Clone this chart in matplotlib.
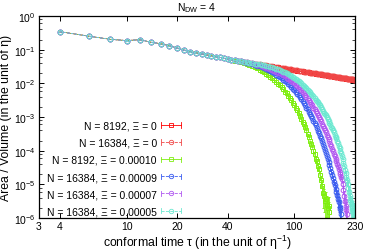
import numpy as np
import matplotlib
matplotlib.use('Agg')
import matplotlib.pyplot as plt
from matplotlib.lines import Line2D
from matplotlib.legend_handler import HandlerBase
from matplotlib.ticker import LogLocator, NullLocator, NullFormatter

plt.rcParams['font.family'] = ['Liberation Sans', 'DejaVu Sans']
plt.rcParams['mathtext.default'] = 'regular'

# conformal time, sampled every 2
tau = np.arange(4, 232, 2)

# tau = 4 ... 38, all runs agree here
early = [0.342, 0.250, 0.203, 0.186, 0.198, 0.166, 0.150, 0.131, 0.112, 0.097,
         0.088, 0.081, 0.0755, 0.0705, 0.066, 0.0622, 0.0588, 0.0558]

# tau = 40 ... 230
red_8192 = [0.053, 0.0505, 0.0483, 0.0464, 0.045,
            0.0437, 0.0423, 0.041, 0.0398, 0.0387, 0.0376, 0.0366, 0.0357, 0.0348, 0.0339,
            0.0331, 0.0324, 0.0317, 0.031, 0.0303, 0.0297, 0.0291, 0.0285, 0.028, 0.0275,
            0.027, 0.0265, 0.026, 0.0256, 0.0251,
            0.0247, 0.0243, 0.024, 0.0236, 0.0232, 0.0229, 0.0225, 0.0222, 0.0219, 0.0216,
            0.0213, 0.021, 0.0207, 0.0205, 0.0202, 0.02, 0.0197, 0.0195, 0.0192, 0.019,
            0.0188, 0.0186, 0.0183, 0.0181, 0.0179,
            0.0177, 0.0175, 0.0174, 0.0172, 0.017, 0.0168, 0.0167, 0.0165, 0.0163, 0.0162,
            0.016, 0.0159, 0.0157, 0.0156, 0.0154, 0.0153, 0.0151, 0.015, 0.0149, 0.0147,
            0.0146, 0.0145, 0.0144, 0.0142, 0.0141,
            0.014, 0.0139, 0.0138, 0.0137, 0.0136, 0.0135, 0.0134, 0.0133, 0.0132, 0.0131,
            0.013, 0.0129, 0.0128, 0.0127, 0.0126, 0.0125]

red_16384 = [0.053, 0.0506, 0.0484, 0.0465, 0.0451,
             0.0438, 0.0424, 0.0411, 0.0399, 0.0388, 0.0377, 0.0367, 0.0358, 0.0349, 0.0341,
             0.0333, 0.0326, 0.0319, 0.0312, 0.0305, 0.0299, 0.0293, 0.0287, 0.0282, 0.0277,
             0.0272, 0.0267, 0.0262, 0.0258, 0.0253,
             0.0249, 0.0245, 0.0242, 0.0238, 0.0234, 0.0231, 0.0227, 0.0224, 0.0221, 0.0218,
             0.0215, 0.0212, 0.0209, 0.0207, 0.0204, 0.0202, 0.0199, 0.0197, 0.0194, 0.0192,
             0.019, 0.0188, 0.0185, 0.0183, 0.0181,
             0.0179, 0.0177, 0.0176, 0.0174, 0.0172, 0.017, 0.0169, 0.0167, 0.0165, 0.0164,
             0.0162, 0.0161, 0.0159, 0.0158, 0.0156, 0.0155, 0.0153, 0.0152, 0.0151, 0.0149,
             0.0148, 0.0147, 0.0146, 0.0144, 0.0143,
             0.0142, 0.0141, 0.014, 0.0139, 0.0138, 0.0137, 0.0136, 0.0135, 0.0134, 0.0133,
             0.0132, 0.0131, 0.013, 0.0129, 0.0128, 0.0127]

# tau = 40 ... 162
green_8192 = [0.0528, 0.05, 0.0472, 0.0447, 0.0423, 0.0399, 0.0374, 0.0349, 0.0325, 0.0301,
              0.0277, 0.0255, 0.0234, 0.0213, 0.0193, 0.0174, 0.0157, 0.0141, 0.0125, 0.0111,
              0.0098, 0.0087, 0.0076, 0.0066, 0.0057, 0.005, 0.0043, 0.0036, 0.0031, 0.0026,
              0.0022, 0.0019, 0.0016, 0.0013, 0.0011, 8.9e-4, 7.3e-4, 6.0e-4, 4.9e-4, 4.0e-4,
              3.1e-4, 2.6e-4, 2.0e-4, 1.6e-4, 1.3e-4, 9.9e-5, 7.9e-5, 5.8e-5, 4.8e-5, 3.4e-5,
              2.8e-5, 1.9e-5, 1.3e-5, 9e-6, 5.5e-6, 4.5e-6, 3.2e-6, 3.6e-6, 2.4e-6, 2.0e-6,
              2.3e-6, 1.5e-6]
green_err = [1.5e-5, 1.3e-5, 1.1e-5, 1e-5, 8e-6, 7e-6, 6e-6, 5e-6, 4e-6, 3.5e-6,
             3e-6, 2.5e-6, 2.5e-6, 2e-6, 1.8e-6, 2e-6, 1.4e-6]

# tau = 40 ... 190
blue_16384 = [0.053, 0.0505, 0.0483, 0.0464, 0.0447, 0.043, 0.0411, 0.0393, 0.0374, 0.0356,
              0.0336, 0.0317, 0.03, 0.0282, 0.0263, 0.0246, 0.023, 0.0214, 0.0198, 0.0182,
              0.0168, 0.0155, 0.0141, 0.0129, 0.0117, 0.0107, 0.0096, 0.0087, 0.0078, 0.007,
              0.0062, 0.0056, 0.0049, 0.0044, 0.0038, 0.0034, 0.003, 0.0026, 0.0022, 0.0019,
              0.0017, 0.0014, 0.0012, 0.0011, 9.1e-4, 7.8e-4, 6.6e-4, 5.6e-4, 4.7e-4, 3.9e-4,
              3.3e-4, 2.8e-4, 2.3e-4, 1.9e-4, 1.55e-4, 1.3e-4, 1.05e-4, 8.6e-5, 7.0e-5, 5.7e-5,
              4.6e-5, 3.8e-5, 3.0e-5, 2.4e-5, 1.9e-5, 1.5e-5, 1.2e-5, 9.5e-6, 7.5e-6, 5.9e-6,
              4.8e-6, 3.6e-6, 2.9e-6, 2.1e-6, 1.8e-6, 1.3e-6]
blue_err = [6e-6, 5e-6, 4.5e-6, 4e-6, 3.5e-6, 3e-6, 2.6e-6, 2.3e-6, 2e-6, 1.8e-6,
            1.7e-6, 1.5e-6, 1.4e-6, 1.3e-6, 1.2e-6, 1.0e-6]

# tau = 40 ... 206
purple_16384 = [0.053, 0.0505, 0.0483, 0.0464, 0.045, 0.0436, 0.042, 0.0404, 0.0389, 0.0373,
                0.0357, 0.0341, 0.0327, 0.0311, 0.0295, 0.028, 0.0266, 0.0251, 0.0237, 0.0222,
                0.0209, 0.0196, 0.0183, 0.0171, 0.016, 0.0148, 0.0137, 0.0127, 0.0117, 0.0108,
                0.0099, 0.0091, 0.0083, 0.0076, 0.0069, 0.0062, 0.0056, 0.005, 0.0045, 0.004,
                0.0036, 0.0032, 0.0028, 0.0025, 0.0022, 0.0019, 0.0017, 0.0015, 0.0013, 0.00112,
                9.8e-4, 8.5e-4, 7.4e-4, 6.4e-4, 5.5e-4, 4.7e-4, 4.1e-4, 3.5e-4, 3.0e-4, 2.6e-4,
                2.2e-4, 1.9e-4, 1.6e-4, 1.35e-4, 1.15e-4, 9.7e-5, 8.2e-5, 6.9e-5, 5.8e-5, 4.9e-5,
                4.1e-5, 3.4e-5, 2.9e-5, 2.4e-5, 2.0e-5, 1.7e-5, 1.4e-5, 1.0e-5, 7.0e-6, 4.6e-6,
                3.2e-6, 2.3e-6, 1.7e-6, 1.3e-6]
purple_err = [6e-6, 5.5e-6, 5e-6, 4.5e-6, 4e-6, 3.6e-6, 3.2e-6, 2.8e-6, 2.5e-6, 2.2e-6,
              2e-6, 1.8e-6, 1.6e-6, 1.4e-6, 1.2e-6, 1.0e-6]

# tau = 40 ... 230
cyan_16384 = [0.053, 0.0505, 0.0483, 0.0464, 0.045, 0.0437, 0.0423, 0.041, 0.0398, 0.0387,
              0.0376, 0.0365, 0.0355, 0.0344, 0.0331, 0.032, 0.0308, 0.0296, 0.0284, 0.0271,
              0.0259, 0.0247, 0.0235, 0.0223, 0.0211, 0.02, 0.0188, 0.0177, 0.0166, 0.0155,
              0.0145, 0.0135, 0.0126, 0.0117, 0.0108, 0.01, 0.0092, 0.0084, 0.0077, 0.0071,
              0.0065, 0.0059, 0.0054, 0.0049, 0.0045, 0.0041, 0.0037, 0.0033, 0.003, 0.0027,
              0.0024, 0.0022, 0.00195, 0.00175, 0.00155, 0.00135, 0.00123, 0.00111, 0.001, 8.8e-4,
              7.8e-4, 6.8e-4, 6.0e-4, 5.2e-4, 4.6e-4, 4.0e-4, 3.5e-4, 3.0e-4, 2.6e-4, 2.3e-4,
              1.95e-4, 1.66e-4, 1.41e-4, 1.2e-4, 1.0e-4, 8.3e-5, 6.8e-5, 5.5e-5, 4.4e-5, 3.5e-5,
              2.7e-5, 2.1e-5, 1.7e-5, 1.3e-5, 1.0e-5, 7.8e-6, 5.9e-6, 4.5e-6, 3.4e-6, 2.8e-6,
              2.2e-6, 2.0e-6, 1.7e-6, 1.5e-6, 1.3e-6, 1.2e-6]
cyan_err = [5e-6, 4.5e-6, 4e-6, 3.6e-6, 3.2e-6, 2.8e-6, 2.5e-6, 2.2e-6, 2e-6, 1.8e-6,
            1.6e-6, 1.5e-6, 1.4e-6, 1.3e-6, 1.2e-6, 1.1e-6]

labels = ['N = 8192, Ξ = 0', 'N = 16384, Ξ = 0', 'N = 8192, Ξ = 0.00010',
          'N = 16384, Ξ = 0.00009', 'N = 16384, Ξ = 0.00007', 'N = 16384, Ξ = 0.00005']
tails = [red_8192, red_16384, green_8192, blue_16384, purple_16384, cyan_16384]
errs = [[], [], green_err, blue_err, purple_err, cyan_err]
colors = ['#ff0000', '#f04848', '#7fee10', '#3a5cf0', '#b058f0', '#6ae8d0']
markers = ['s', 'o', 's', 'o', 'o', 'o']
styles = ['-', '--', '-', '--', '--', '--']


class BarSample(HandlerBase):
    # gnuplot style key sample: line with end bars and a point in the middle
    def create_artists(self, legend, orig, xdescent, ydescent, width, height, fontsize, trans):
        y = height / 2 - ydescent
        x0, x1 = -xdescent, width - xdescent
        c = orig.get_color()
        line = Line2D([x0, x1], [y, y], color=c, ls=orig.get_linestyle(), lw=0.6)
        caps = Line2D([x0, x0, np.nan, x1, x1], [y - 2, y + 2, np.nan, y - 2, y + 2], color=c, lw=0.6)
        mark = Line2D([(x0 + x1) / 2], [y], marker=orig.get_marker(), color=c, mfc='none',
                      ms=3.2, mew=0.6, ls='none')
        for a in (line, caps, mark):
            a.set_transform(trans)
        return [line, caps, mark]


fig = plt.figure(figsize=(3.66, 2.53), dpi=100)
ax = fig.add_axes([0.1066, 0.1344, 0.8634, 0.7984])

handles = []
for lab, tail, e, c, m, ls in zip(labels, tails, errs, colors, markers, styles):
    vals = np.array(early + tail)
    t = tau[:len(vals)]
    yerr = np.array([0.0] * (len(vals) - len(e)) + e)
    ax.errorbar(t, vals, yerr=yerr, fmt=m, ls=ls, color=c, mfc='none', ms=3.4, mew=0.7,
                lw=0.5, elinewidth=0.6, capsize=1.0, capthick=0.6)
    handles.append(Line2D([], [], color=c, marker=m, ls=ls))

ax.set_xscale('log')
ax.set_yscale('log')
ax.set_xlim(3, 230)
ax.set_ylim(1e-6, 1)
ax.set_xticks([3, 4, 10, 20, 40, 100, 230])
ax.set_xticklabels(['3', '4', '10', '20', '40', '100', '230'])
ax.xaxis.set_minor_locator(NullLocator())
ax.yaxis.set_major_locator(LogLocator(base=10, numticks=10))
ax.yaxis.set_minor_locator(LogLocator(base=10, subs=(2, 4, 6, 8), numticks=10))
ax.yaxis.set_minor_formatter(NullFormatter())
ax.tick_params(which='both', direction='in', top=True, right=True, labelsize=7.5, pad=2.5)
ax.tick_params(which='major', length=3.5, width=0.7)
ax.tick_params(which='minor', length=2, width=0.5)
for s in ax.spines.values():
    s.set_linewidth(0.9)

ax.set_xlabel('conformal time τ (in the unit of η$^{-1}$)', fontsize=8.8, labelpad=1)
ax.set_ylabel('Area / Volume (in the unit of η)', fontsize=8.8, labelpad=1)
ax.set_title('N$_{DW}$ = 4', fontsize=7.5, pad=4)

ax.legend(handles, labels, handler_map={Line2D: BarSample()}, markerfirst=False,
          loc='center right', bbox_to_anchor=(0.472, 0.245), frameon=False, fontsize=7.5,
          handlelength=1.9, handletextpad=0.4, labelspacing=0.68, borderpad=0.2)

fig.savefig('out.png', dpi=100)
